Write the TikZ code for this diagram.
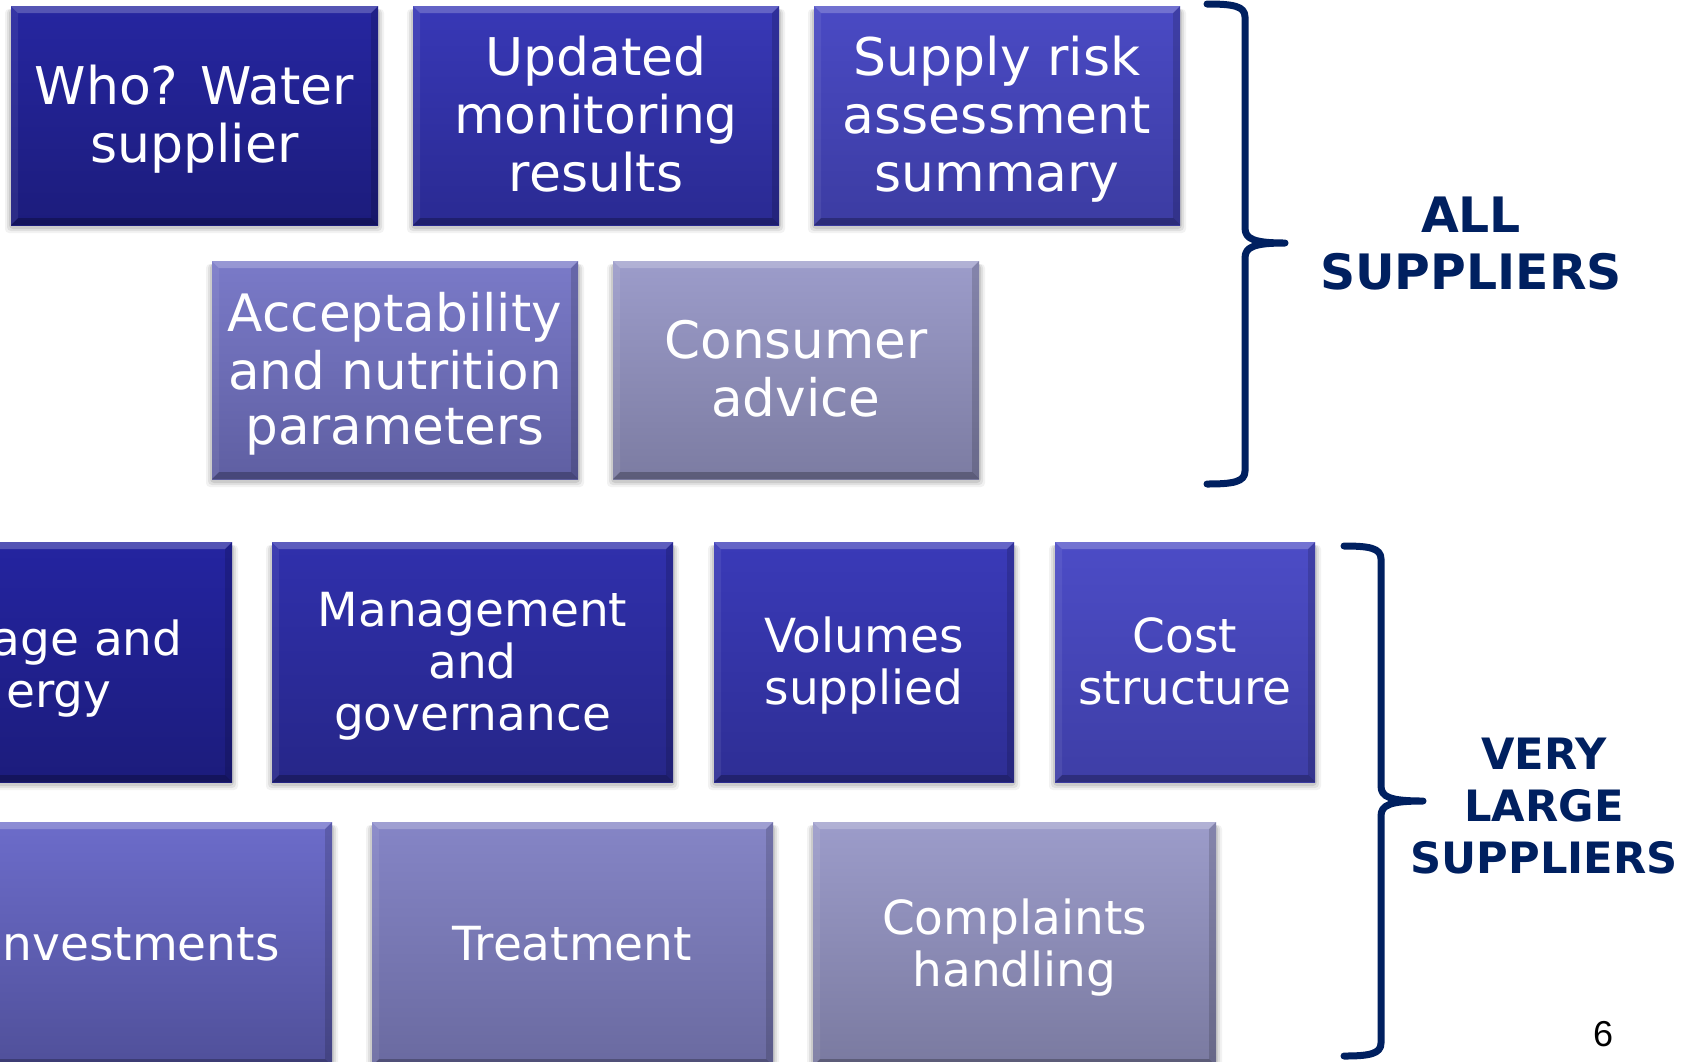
\documentclass[tikz,border=0pt]{standalone}
\usepackage{fontspec}
\setmainfont{DejaVu Sans}
\newfontfamily\numfont{Liberation Sans}
\definecolor{navy}{HTML}{002060}
\definecolor{whoT}{HTML}{2626A0}\definecolor{whoB}{HTML}{1C1C7C}
\definecolor{updT}{HTML}{3838B6}\definecolor{updB}{HTML}{2A2A92}
\definecolor{supT}{HTML}{4A4AC4}\definecolor{supB}{HTML}{3C3CA2}
\definecolor{accT}{HTML}{7A7AC8}\definecolor{accB}{HTML}{5F5FA2}
\definecolor{conT}{HTML}{9C9CCA}\definecolor{conB}{HTML}{7C7CA2}
\definecolor{leaT}{HTML}{2424A0}\definecolor{leaB}{HTML}{1C1C7C}
\definecolor{mgtT}{HTML}{3030AC}\definecolor{mgtB}{HTML}{262688}
\definecolor{volT}{HTML}{3A3AB8}\definecolor{volB}{HTML}{2E2E94}
\definecolor{cstT}{HTML}{4C4CC6}\definecolor{cstB}{HTML}{3E3EA6}
\definecolor{invT}{HTML}{6C6CCA}\definecolor{invB}{HTML}{50509A}
\definecolor{trtT}{HTML}{8585C6}\definecolor{trtB}{HTML}{6A6AA0}
\definecolor{cmpT}{HTML}{9C9CCA}\definecolor{cmpB}{HTML}{7A7AA0}
\def\bv{3.5pt}
\newcommand\blk[9]{%
  \foreach \s/\o in {6/0.05,4/0.07,2/0.09}{%
    \fill[black,opacity=\o,rounded corners=2pt] ({#2-\s},{#3+3}) rectangle ({#4+\s},{#5+2+\s});}
  \node[blkbox,#9,top color=#6,bottom color=#7,
        minimum width={(#4-(#2))*0.5pt},minimum height={(#5-(#3))*0.5pt}]
        (#1) at ({(#2+(#4))/2},{(#3+(#5))/2}) {};
  \fill[white,opacity=.22] (#1.north west) -- (#1.north east) -- ([xshift=-\bv,yshift=-\bv]#1.north east) -- ([xshift=\bv,yshift=-\bv]#1.north west) -- cycle;
  \fill[black,opacity=.25] (#1.south west) -- (#1.south east) -- ([xshift=-\bv,yshift=\bv]#1.south east) -- ([xshift=\bv,yshift=\bv]#1.south west) -- cycle;
  \fill[white,opacity=.07] (#1.north west) -- ([xshift=\bv,yshift=-\bv]#1.north west) -- ([xshift=\bv,yshift=\bv]#1.south west) -- (#1.south west) -- cycle;
  \fill[black,opacity=.15] (#1.north east) -- ([xshift=-\bv,yshift=-\bv]#1.north east) -- ([xshift=-\bv,yshift=\bv]#1.south east) -- (#1.south east) -- cycle;
  \node[blktext,#9,yshift=-3.25pt] (#1-t) at (#1.center) {\strut#8\strut};
}
\begin{document}
\begin{tikzpicture}[x=0.5pt,y=-0.5pt,
  blkbox/.style={rectangle,inner sep=0pt,outer sep=0pt,draw=none},
  blktext/.style={inner sep=0pt,text=white,align=center},
  rowA/.style={font=\fontsize{26}{29}\selectfont},
  rowB/.style={font=\fontsize{25.8}{27.5}\selectfont},
  rowC/.style={font=\fontsize{23.5}{26}\selectfont},
  brace/.style={draw=navy,line width=3.5pt,line cap=round,line join=round},
  grpA/.style={text=navy,align=center,font=\bfseries\fontsize{24.4}{28.5}\selectfont},
  grpB/.style={text=navy,align=center,font=\bfseries\fontsize{21.6}{26}\selectfont}]
\useasboundingbox (0,0) rectangle (1689,1061);
\fill[white] (0,0) rectangle (1689,1061);
\clip (0,0) rectangle (1689,1061);

% row 1
\blk{who}{11}{6}{378}{225}{whoT}{whoB}{Who? Water\\supplier}{rowA}
\blk{upd}{413}{6}{779}{225}{updT}{updB}{Updated\\monitoring\\results}{rowA}
\blk{sup}{814}{6}{1180}{225}{supT}{supB}{Supply risk\\assessment\\summary}{rowA}
% row 2
\blk{acc}{212}{261}{578}{479}{accT}{accB}{Acceptability\\and nutrition\\parameters}{rowB}
\blk{con}{613}{261}{979}{479}{conT}{conB}{Consumer\\advice}{rowB}
% row 3
\blk{lea}{-169}{542}{232}{782}{leaT}{leaB}{}{rowC}
\node[blktext,rowC,anchor=base east] (lea-a) at (183,655) {age and};
\node[blktext,rowC,anchor=base east] (lea-b) at (112,707) {ergy};
\blk{mgt}{272}{542}{673}{782}{mgtT}{mgtB}{Management\\and\\governance}{rowC}
\blk{vol}{714}{542}{1014}{782}{volT}{volB}{Volumes\\supplied}{rowC}
\blk{cst}{1055}{542}{1315}{782}{cstT}{cstB}{Cost\\structure}{rowC}
% row 4
\blk{inv}{-70}{822}{332}{1066}{invT}{invB}{}{rowC}
\node[blktext,rowC,anchor=base east] (inv-a) at (280,960) {nvestments};
\blk{trt}{372}{822}{773}{1066}{trtT}{trtB}{Treatment}{rowC}
\blk{cmp}{813}{822}{1216}{1066}{cmpT}{cmpB}{Complaints\\handling}{rowC}

% braces
\coordinate (b1t) at (1207,4);
\coordinate (b1m) at (1285,243);
\coordinate (b1b) at (1207,484);
\draw[brace] (b1t) .. controls (1233,4) and (1245,6) .. (1245,17) -- (1245,228)
  .. controls (1245,239) and (1254,243) .. (b1m)
  .. controls (1254,243) and (1245,247) .. (1245,258) -- (1245,471)
  .. controls (1245,482) and (1233,484) .. (b1b);
\coordinate (b2t) at (1344,546);
\coordinate (b2m) at (1423,801);
\coordinate (b2b) at (1344,1056);
\draw[brace] (b2t) .. controls (1369,546) and (1381,548) .. (1381,559) -- (1381,786)
  .. controls (1381,797) and (1390,801) .. (b2m)
  .. controls (1390,801) and (1381,805) .. (1381,816) -- (1381,1043)
  .. controls (1381,1054) and (1369,1056) .. (b2b);

\node[grpA] (all) at (1471,244) {ALL\\SUPPLIERS};
\node[grpB] (vls) at (1544,806) {VERY\\LARGE\\SUPPLIERS};
\node[font=\numfont\fontsize{18}{20}\selectfont] (pg) at (1603,1034) {6};
\end{tikzpicture}
\end{document}
